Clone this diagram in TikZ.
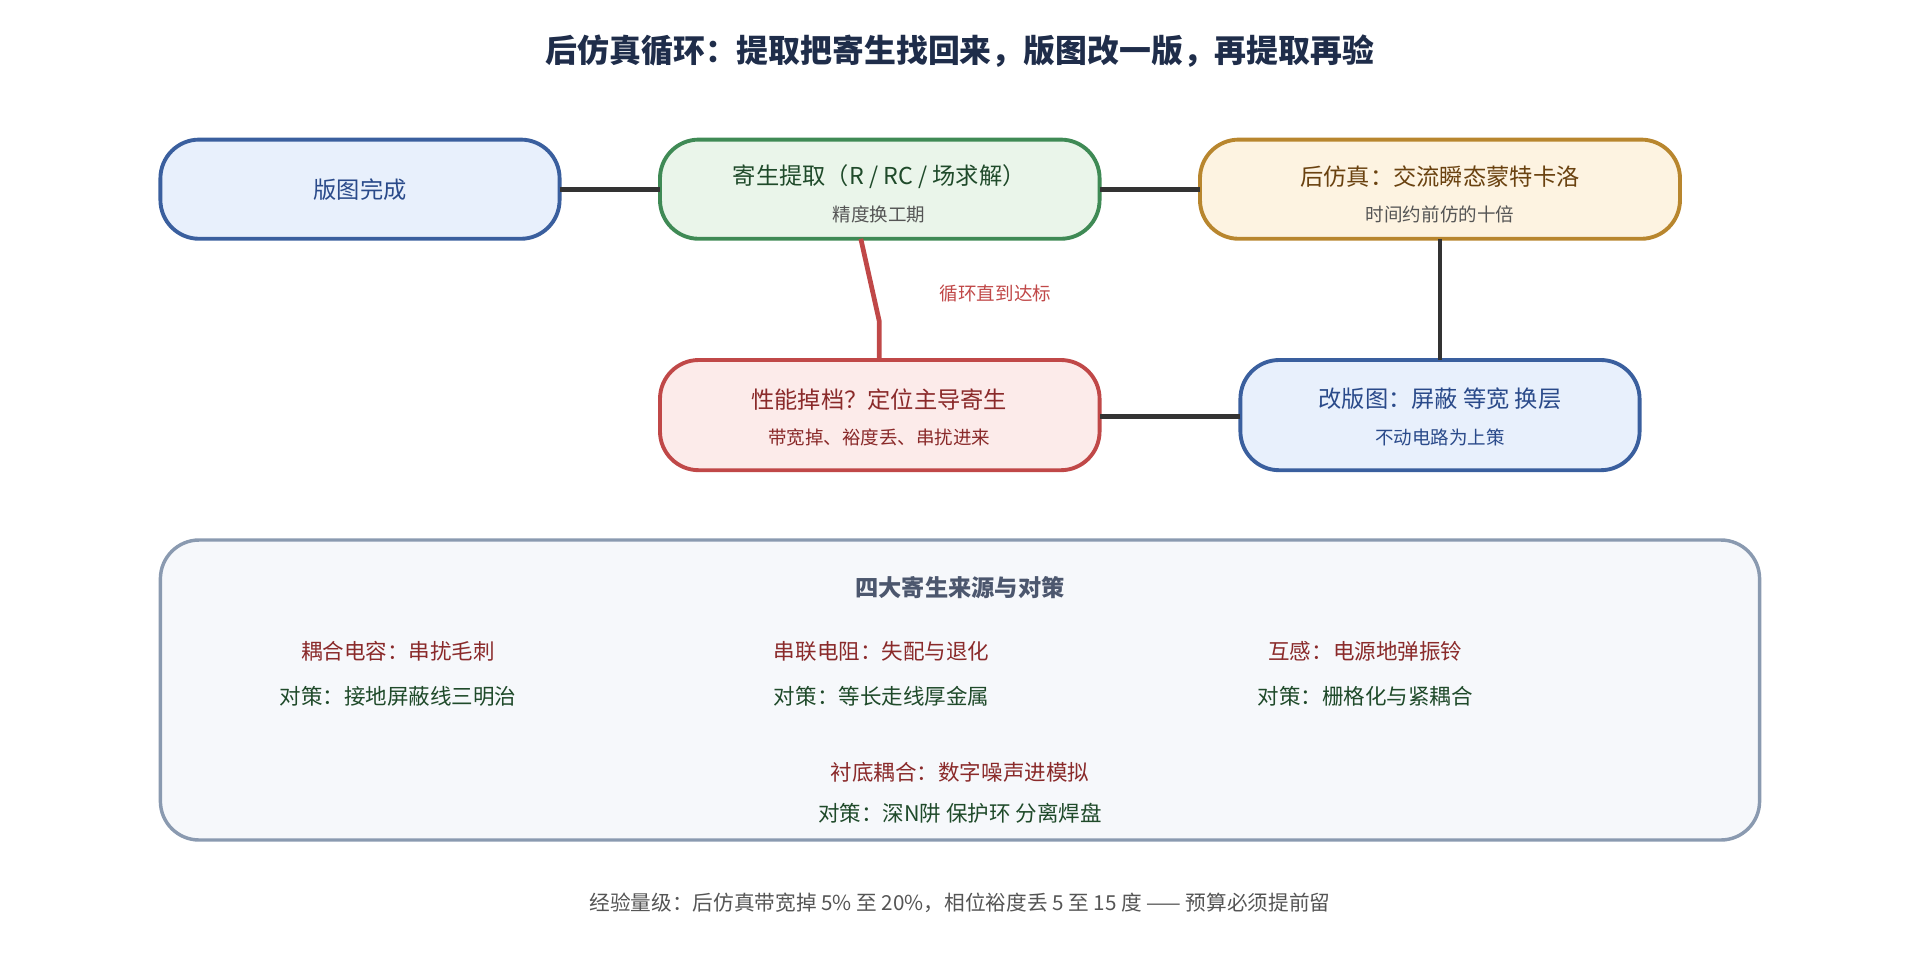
\documentclass[tikz,border=0pt]{standalone}
\usepackage{fontspec}
\setmainfont{Noto Sans CJK SC}
\usetikzlibrary{positioning}
\usetikzlibrary{calc}
\usepackage{xcolor}
\definecolor{titlec}{HTML}{1F2D4A}
\definecolor{bluef}{HTML}{E8F0FC}\definecolor{bluel}{HTML}{3A5F9E}\definecolor{bluet}{HTML}{2A4A8A}
\definecolor{greenf}{HTML}{EAF5EA}\definecolor{greenl}{HTML}{3F8A55}\definecolor{greent}{HTML}{1F4A2A}
\definecolor{orangef}{HTML}{FDF3E1}\definecolor{orangel}{HTML}{B8862E}\definecolor{oranget}{HTML}{6A4210}
\definecolor{redf}{HTML}{FCEBEA}\definecolor{redl}{HTML}{C04848}\definecolor{redt}{HTML}{8A2A2A}
\definecolor{panelf}{HTML}{F6F8FB}\definecolor{panell}{HTML}{8A9AB0}
\definecolor{subc}{HTML}{555555}\definecolor{wire}{HTML}{333333}
\tikzset{
  stage/.style={draw, rounded corners=9pt, line width=0.9pt, anchor=north west},
  main/.style={font=\fontsize{5.4pt}{6pt}\selectfont},
  sub/.style={font=\fontsize{4.3pt}{5pt}\selectfont, text=subc},
  link/.style={draw=wire, line width=1.1pt},
  cause/.style={font=\fontsize{5pt}{6pt}\selectfont, text=redt},
  cure/.style={font=\fontsize{5pt}{6pt}\selectfont, text=greent}
}
\begin{document}
\begin{tikzpicture}[x=0.01cm,y=-0.01cm]
				\useasboundingbox (0,0) rectangle (1568,784);
				% title
				\node[font=\fontsize{7.4pt}{8pt}\selectfont\bfseries, text=titlec] (title) at (784,42) {后仿真循环：提取把寄生找回来，版图改一版，再提取再验};
				% stage boxes
				\draw[stage, fill=bluef, draw=bluel] (131,114) rectangle (457,195);
				\draw[stage, fill=greenf, draw=greenl] (539,114) rectangle (898,195);
				\draw[stage, fill=orangef, draw=orangel] (980,114) rectangle (1372,195);
				\draw[stage, fill=redf, draw=redl] (539,294) rectangle (898,384);
				\draw[stage, fill=bluef, draw=bluel] (1013,294) rectangle (1339,384);
				\coordinate (layoutE) at (457,155); \coordinate (extrW) at (539,155);
				\coordinate (extrE) at (898,155); \coordinate (simW) at (980,155);
				\coordinate (simS) at (1176,195); \coordinate (fixN) at (1176,294);
				\coordinate (fixW) at (1013,340); \coordinate (dropE) at (898,340);
				\coordinate (dropN) at (718,294); \coordinate (extrS) at (703,195);
				\node[main, text=bluet] (layout) at (294,155) {版图完成};
				\node[main, text=greent] (extr) at (718,144) {寄生提取（R / RC / 场求解）};
				\node[sub] (extrsub) at (718,175) {精度换工期};
				\node[main, text=oranget] (sim) at (1176,144) {后仿真：交流瞬态蒙特卡洛};
				\node[sub] (simsub) at (1176,175) {时间约前仿的十倍};
				\node[main, text=redt] (drop) at (718,326) {性能掉档？定位主导寄生};
				\node[sub, text=redt] (dropsub) at (718,357) {带宽掉、裕度丢、串扰进来};
				\node[main, text=bluet] (fix) at (1176,326) {改版图：屏蔽 等宽 换层};
				\node[sub, text=bluet] (fixsub) at (1176,357) {不动电路为上策};
				% connectors
				\draw[link] (layoutE) -- (extrW);
				\draw[link] (extrE) -- (simW);
				\draw[link] (simS) -- (fixN);
				\draw[link] (fixW) -- (dropE);
				\draw[draw=redl, line width=1.1pt] (dropN) -- (718,262) -- (extrS);
				\node[sub, text=redl] (looplbl) at (813,240) {循环直到达标};
				% panel
				\draw[rounded corners=9pt, fill=panelf, draw=panell, line width=0.8pt] (131,441) rectangle (1437,686);
				\node[font=\fontsize{5.4pt}{6pt}\selectfont\bfseries, text=titlec!80] (ptitle) at (784,480) {四大寄生来源与对策};
				\node[cause] (c1) at (325,532) {耦合电容：串扰毛刺};
				\node[cure] (k1) at (325,569) {对策：接地屏蔽线三明治};
				\node[cause] (c2) at (720,532) {串联电阻：失配与退化};
				\node[cure] (k2) at (720,569) {对策：等长走线厚金属};
				\node[cause] (c3) at (1115,532) {互感：电源地弹振铃};
				\node[cure] (k3) at (1115,569) {对策：栅格化与紧耦合};
				\node[cause] (c4) at (784,631) {衬底耦合：数字噪声进模拟};
				\node[cure] (k4) at (784,664) {对策：深N阱 保护环 分离焊盘};
				% footer
				\node[font=\fontsize{4.8pt}{6pt}\selectfont, text=subc] (foot) at (784,737) {经验量级：后仿真带宽掉 5\% 至 20\%，相位裕度丢 5 至 15 度 —— 预算必须提前留};
			\end{tikzpicture}
\end{document}
